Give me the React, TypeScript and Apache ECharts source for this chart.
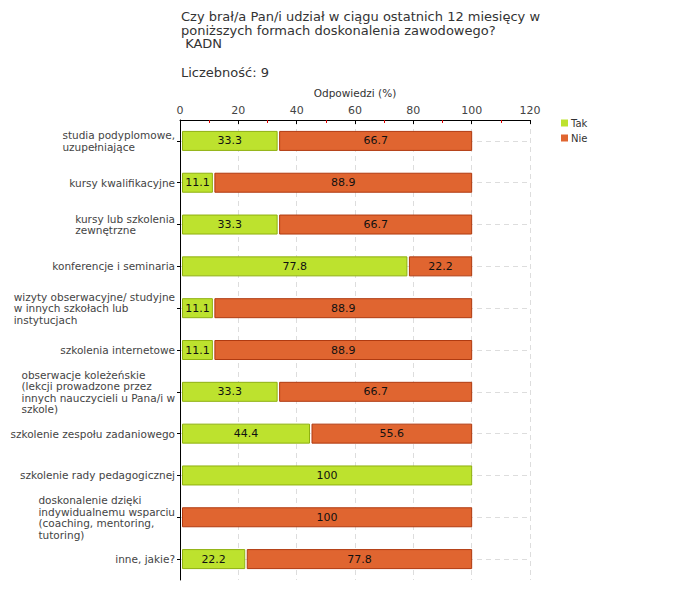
import React, { useEffect, useRef } from "react";
import * as echarts from "echarts";

const categories = [
  "studia podyplomowe,\nuzupełniające",
  "kursy kwalifikacyjne",
  "kursy lub szkolenia\nzewnętrzne",
  "konferencje i seminaria",
  "wizyty obserwacyjne/ studyjne\nw innych szkołach lub\ninstytucjach",
  "szkolenia internetowe",
  "obserwacje koleżeńskie\n(lekcji prowadzone przez\ninnych nauczycieli u Pana/i w\nszkole)",
  "szkolenie zespołu zadaniowego",
  "szkolenie rady pedagogicznej",
  "doskonalenie dzięki\nindywidualnemu wsparciu\n(coaching, mentoring,\ntutoring)",
  "inne, jakie?",
];
const takValues: (number | null)[] = [33.3, 11.1, 33.3, 77.8, 11.1, 11.1, 33.3, 44.4, 100, null, 22.2];
const nieValues: (number | null)[] = [66.7, 88.9, 66.7, 22.2, 88.9, 88.9, 66.7, 55.6, null, 100, 77.8];
const xTicks = { min: 0, max: 120, interval: 20 };

const FONT = "DejaVu Sans";
const GREEN = "#bde22e";
const GREEN_BORDER = "#8fb010";
const ORANGE = "#e06530";
const ORANGE_BORDER = "#b03a10";

function makeRender(fill: string, stroke: string) {
  return (params: any, api: any) => {
    const idx = api.value(0);
    const start = api.value(1);
    const end = api.value(2);
    const val = api.value(3);
    const p0 = api.coord([start, idx]);
    const p1 = api.coord([end, idx]);
    const h = 19;
    const inset = 2.5;
    return {
      type: "rect",
      shape: { x: p0[0] + inset, y: p0[1] - h / 2, width: p1[0] - p0[0] - inset, height: h },
      style: { fill, stroke, lineWidth: 1 },
      textContent: {
        style: { text: String(val), fill: "#111", fontSize: 11, fontFamily: FONT },
      },
      textConfig: { position: "inside" },
    };
  };
}

export default function App() {
  const ref = useRef<HTMLDivElement>(null);
  useEffect(() => {
    if (!ref.current) return;
    const chart = echarts.init(ref.current, undefined, { renderer: "svg" });
    const takData: any[] = [];
    const nieData: any[] = [];
    categories.forEach((_, i) => {
      const t = takValues[i];
      const n = nieValues[i];
      if (t != null) takData.push([i, 0, t, t]);
      if (n != null) nieData.push([i, t ?? 0, (t ?? 0) + n, n]);
    });
    chart.setOption({
      animation: false,
      textStyle: { fontFamily: FONT },
      title: [
        {
          text: "Czy brał/a Pan/i udział w ciągu ostatnich 12 miesięcy w\nponiższych formach doskonalenia zawodowego?\n KADN",
          left: 176,
          top: 5,
          textStyle: { fontSize: 13, fontWeight: "normal", color: "#333", lineHeight: 13.5, fontFamily: FONT },
        },
        {
          text: "Liczebność: 9",
          left: 176,
          top: 61,
          textStyle: { fontSize: 13, fontWeight: "normal", color: "#333", fontFamily: FONT },
        },
      ],
      legend: {
        orient: "vertical",
        left: 556,
        top: 113,
        itemWidth: 7,
        itemHeight: 7,
        itemGap: 5,
        icon: "rect",
        data: ["Tak", "Nie"],
        textStyle: { fontSize: 10, color: "#333", fontFamily: FONT, padding: [0, 0, 0, -2] },
      },
      grid: { left: 180, right: 150, top: 120, bottom: 20, containLabel: false },
      xAxis: {
        type: "value",
        position: "top",
        min: xTicks.min,
        max: xTicks.max,
        interval: xTicks.interval,
        name: "Odpowiedzi (%)",
        nameLocation: "middle",
        nameGap: 22,
        nameTextStyle: { fontSize: 10.5, color: "#333", fontFamily: FONT },
        axisLine: { show: true, lineStyle: { color: "#000", width: 1 } },
        axisTick: { show: true, inside: true, length: 4, lineStyle: { color: "#000" } },
        minorTick: { show: true, splitNumber: 2, length: 3, lineStyle: { color: "#e00000" } },
        axisLabel: { fontSize: 11, color: "#444", margin: 4, fontFamily: FONT },
        splitLine: { show: true, lineStyle: { color: "#ddd", type: [5, 4] } },
      },
      yAxis: {
        type: "category",
        inverse: true,
        data: categories,
        axisLine: { show: true, lineStyle: { color: "#000", width: 1 } },
        axisTick: { show: true, alignWithLabel: true, length: 3, lineStyle: { color: "#000" } },
        splitLine: { show: true, alignWithLabel: true, lineStyle: { color: "#ddd", type: [5, 4] } },
        axisLabel: {
          fontSize: 10.5,
          color: "#444",
          margin: 5,
          interval: 0,
          lineHeight: 11.5,
          fontFamily: FONT,
          formatter: (v: string) => v.split("\n").map((l) => "{a|" + l + "}").join("\n"),
          rich: { a: { align: "left", fontSize: 10.5, color: "#444", lineHeight: 11.5, fontFamily: FONT } },
        },
      },
      series: [
        {
          name: "Tak",
          type: "custom",
          renderItem: makeRender(GREEN, GREEN_BORDER),
          itemStyle: { color: GREEN },
          encode: { x: [1, 2], y: 0 },
          data: takData,
          z: 3,
        },
        {
          name: "Nie",
          type: "custom",
          renderItem: makeRender(ORANGE, ORANGE_BORDER),
          itemStyle: { color: ORANGE },
          encode: { x: [1, 2], y: 0 },
          data: nieData,
          z: 3,
        },
      ],
    });
    return () => chart.dispose();
  }, []);
  return <div ref={ref} style={{ width: 680, height: 600, margin: -8 }} />;
}
